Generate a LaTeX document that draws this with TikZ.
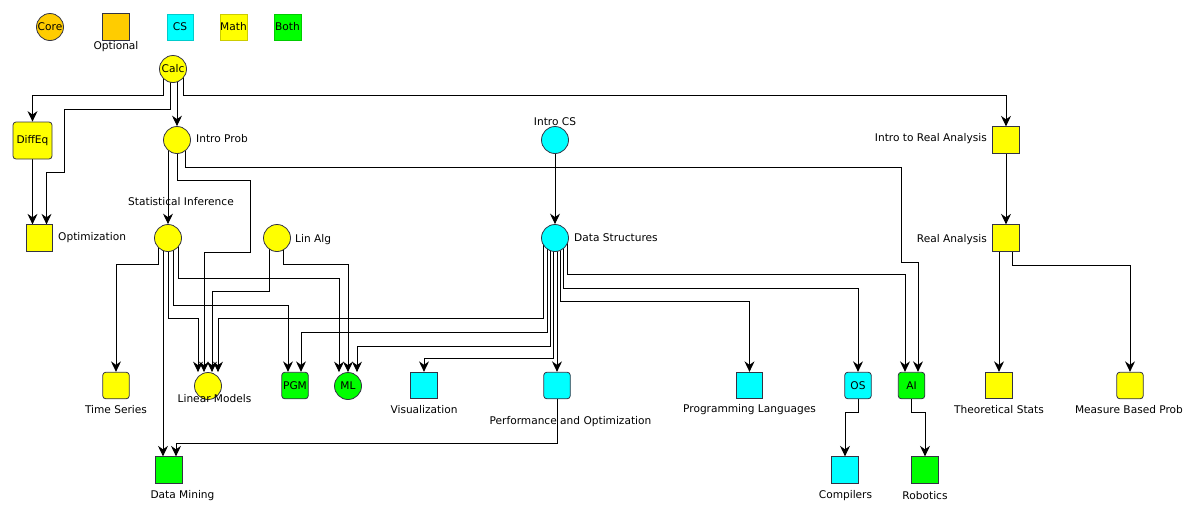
\documentclass[tikz,border=0pt]{standalone}
\usepackage{fontspec}
\setmainfont{DejaVu Sans}
\usetikzlibrary{arrows.meta,backgrounds}
\definecolor{coreC}{HTML}{FFCC00}
\definecolor{mathC}{HTML}{FFFF00}
\definecolor{csC}{HTML}{00FFFF}
\definecolor{bothC}{HTML}{00FF00}
\definecolor{edgeC}{HTML}{333344}
\tikzset{
  base/.style={draw=edgeC, line width=0.8pt, inner sep=0pt, font=\fontsize{10.6}{12}\selectfont},
  crs/.style={base, circle, minimum size=27pt},
  sq/.style={base, rectangle, minimum size=26.5pt},
  rsq/.style={sq, rounded corners=3pt},
  txt/.style={inner sep=0pt, font=\fontsize{10.6}{12}\selectfont},
  arr/.style={draw=black, line width=1pt, -{Stealth[length=10.5pt,width=10pt,inset=3.5pt]}},
}
\begin{document}
\begin{tikzpicture}[x=1pt,y=-1pt]
\useasboundingbox (0,0) rectangle (1200,517);
% legend
\node[crs, fill=coreC] (lgcore) at (50,27) {Core};
\node[sq, fill=coreC] (lgopt) at (116,27) {};
\node[txt] (lgoptlbl) at (116,47) {Optional};
\node[sq, fill=csC, draw=csC!80!black, line width=0.4pt] (lgcs) at (180,27) {CS};
\node[sq, fill=mathC, draw=mathC!80!black, line width=0.4pt] (lgmath) at (233.5,27) {Math};
\node[sq, fill=bothC, draw=bothC!80!black, line width=0.4pt] (lgboth) at (287.5,27) {Both};
% courses
\node[crs, fill=mathC] (calc) at (173,69) {Calc};
\node[base, rectangle, rounded corners=3pt, fill=mathC, minimum width=39pt, minimum height=37pt] (diffeq) at (32.5,140.5) {DiffEq};
\node[sq, fill=mathC] (optim) at (39.5,238) {};
\node[txt, anchor=west] (optimlbl) at (58,238) {Optimization};
\node[crs, fill=mathC] (introprob) at (177,140) {};
\node[txt, anchor=west] (introproblbl) at (196,139) {Intro Prob};
\node[crs, fill=mathC] (statinf) at (168,238) {};
\node[txt] (statinflbl) at (181,202) {Statistical Inference};
\node[crs, fill=mathC] (linalg) at (277,238) {};
\node[txt, anchor=west] (linalglbl) at (295,240) {Lin Alg};
\node[crs, fill=csC] (introcs) at (555,140) {};
\node[txt] (introcslbl) at (555,122) {Intro CS};
\node[crs, fill=csC] (ds) at (555,238) {};
\node[txt, anchor=west] (dslbl) at (574,238) {Data Structures};
\node[sq, fill=mathC] (introra) at (1006,140) {};
\node[txt, anchor=east] (introralbl) at (987,139) {Intro to Real Analysis};
\node[sq, fill=mathC] (ra) at (1006,238) {};
\node[txt, anchor=east] (ralbl) at (987,240) {Real Analysis};
% bottom row
\node[rsq, fill=mathC] (ts) at (116,385.5) {};
\node[txt] (tslbl) at (116,410) {Time Series};
\node[crs, fill=mathC] (linmod) at (208,386) {};
\node[txt] (linmodlbl) at (214.5,399) {Linear Models};
\node[rsq, fill=bothC] (pgm) at (295,385.5) {PGM};
\node[crs, fill=bothC] (ml) at (348,386) {ML};
\node[sq, fill=csC] (vis) at (424,385.5) {};
\node[txt] (vislbl) at (424,410) {Visualization};
\node[rsq, fill=csC] (perf) at (557,385.5) {};
\node[txt] (perflbl) at (570.5,422) {Performance and Optimization};
\node[sq, fill=csC] (pl) at (749.5,385.5) {};
\node[txt] (pllbl) at (749.5,410) {Programming Languages};
\node[rsq, fill=csC] (os) at (858,385.5) {OS};
\node[rsq, fill=bothC] (ai) at (911.5,385.5) {AI};
\node[sq, fill=mathC] (theo) at (999,385.5) {};
\node[txt] (theolbl) at (999,410) {Theoretical Stats};
\node[rsq, fill=mathC] (mbp) at (1130,385.5) {};
\node[txt] (mbplbl) at (1129,410) {Measure Based Prob};
\node[sq, fill=bothC] (dm) at (169,470) {};
\node[txt] (dmlbl) at (182.5,495.5) {Data Mining};
\node[sq, fill=csC] (comp) at (845,470) {};
\node[txt] (complbl) at (845.5,495.5) {Compilers};
\node[sq, fill=bothC] (rob) at (925,470) {};
\node[txt] (roblbl) at (925,495.5) {Robotics};
% connectors
\begin{scope}[on background layer]
\draw[arr] ([xshift=-10pt]calc.center) |- (32.5,95.5) -- (diffeq.north);
\draw[arr] ([xshift=-3pt]calc.center) |- (64,109) |- (46.5,172.5) -- ([xshift=7pt]optim.north);
\draw[arr] (diffeq.south) -- ([xshift=-7pt]optim.north);
\draw[arr] ([xshift=4pt]calc.center) -- (introprob.north);
\draw[arr] ([xshift=10pt]calc.center) |- (1006,95.5) -- (introra.north);
\draw[arr] ([xshift=-9pt]introprob.center) -- (statinf.north);
\draw[arr] (introprob.center) |- (250,180) |- (204,252) -- ([xshift=-4pt]linmod.north);
\draw[arr] ([xshift=8pt]introprob.center) |- (901,167) |- (918,262) -- ([xshift=6.5pt]ai.north);
\draw[arr] (introcs.south) -- (ds.north);
\draw[arr] (introra.south) -- (ra.north);
\draw[arr] ([xshift=-10pt]statinf.center) |- (116,264) -- (ts.north);
\draw[arr] ([xshift=-5pt]statinf.center) -- ([xshift=-6pt]dm.north);
\draw[arr] (statinf.center) |- (198,318) -- ([xshift=-10pt]linmod.north);
\draw[arr] ([xshift=5pt]statinf.center) |- (288,305) -- ([xshift=-7pt]pgm.north);
\draw[arr] ([xshift=10pt]statinf.center) |- (339,278) -- ([xshift=-9pt]ml.north);
\draw[arr] ([xshift=-8pt]linalg.center) |- (212,291) -- ([xshift=4pt]linmod.north);
\draw[arr] ([xshift=6pt]linalg.center) |- (348,264) -- (ml.north);
\draw[arr] ([xshift=-12pt]ds.center) |- (218,318) -- ([xshift=10pt]linmod.north);
\draw[arr] ([xshift=-8pt]ds.center) |- (301,332) -- ([xshift=6pt]pgm.north);
\draw[arr] ([xshift=-5pt]ds.center) |- (357,346) -- ([xshift=9pt]ml.north);
\draw[arr] ([xshift=-2pt]ds.center) |- (424,358) -- (vis.north);
\draw[arr] ([xshift=2pt]ds.center) -- (perf.north);
\draw[arr] ([xshift=5pt]ds.center) |- (749.5,301) -- (pl.north);
\draw[arr] ([xshift=8pt]ds.center) |- (858,288) -- (os.north);
\draw[arr] ([xshift=12pt]ds.center) |- (905,274.5) -- ([xshift=-6.5pt]ai.north);
\draw[arr] (perf.south) |- (176,443) -- ([xshift=7pt]dm.north);
\draw[arr] (os.south) |- (845,412) -- (comp.north);
\draw[arr] (ai.south) |- (925,412) -- (rob.north);
\draw[arr] ([xshift=-7pt]ra.center) -- (theo.north);
\draw[arr] ([xshift=6pt]ra.center) |- (1130,265) -- (mbp.north);
\end{scope}
\end{tikzpicture}
\end{document}
